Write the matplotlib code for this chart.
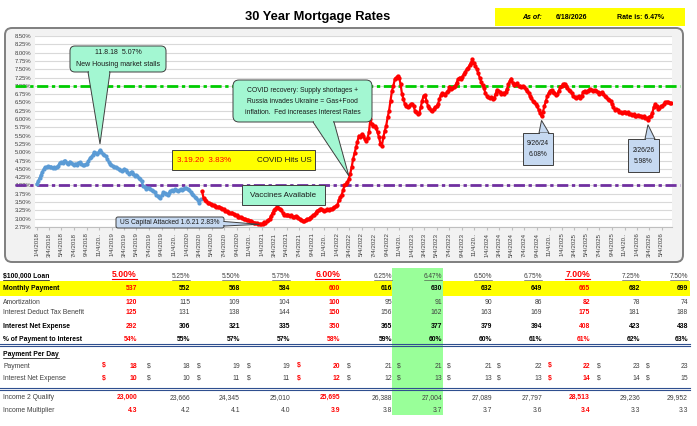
import numpy as np
import pandas as pd
import matplotlib
matplotlib.use('Agg')
import matplotlib.pyplot as plt
import matplotlib.dates as mdates
from matplotlib import font_manager
from matplotlib.patches import FancyBboxPatch, Polygon, Rectangle

plt.rcParams['font.family'] = ['Liberation Sans', 'DejaVu Sans']

#-- weekly 30 year rates (Thursdays) --
rates_2018 = [4.05, 4.12, 4.22, 4.32, 4.42, 4.50, 4.55, 4.56, 4.58, 4.55, 4.57, 4.54, 4.55,
              4.52, 4.56, 4.60, 4.68, 4.70, 4.68, 4.73, 4.75, 4.68, 4.66, 4.72, 4.68, 4.65,
              4.63, 4.66, 4.62, 4.68, 4.70, 4.66, 4.62, 4.61, 4.64, 4.66, 4.74, 4.82, 4.86,
              4.92, 5.00, 4.97, 4.95, 5.00, 5.07, 5.01, 4.95, 4.92, 4.88, 4.80, 4.72, 4.65]
rates_2019 = [4.62, 4.58, 4.55, 4.56, 4.52, 4.50, 4.47, 4.45, 4.46, 4.50, 4.46, 4.40, 4.35,
              4.38, 4.42, 4.35, 4.30, 4.32, 4.28, 4.22, 4.18, 4.12, 3.98, 3.95, 3.90, 3.92,
              3.92, 3.88, 3.85, 3.84, 3.80, 3.72, 3.68, 3.65, 3.62, 3.70, 3.80, 3.78, 3.74,
              3.72, 3.78, 3.82, 3.86, 3.84, 3.88, 3.85, 3.82, 3.85, 3.88, 3.85, 3.90, 3.92]
rates_2020 = [3.92, 3.88, 3.85, 3.80, 3.74, 3.70, 3.66, 3.62, 3.55, 3.48, 3.58, 3.83, 3.62,
              3.55, 3.52, 3.48, 3.46, 3.45, 3.42, 3.40, 3.38, 3.36, 3.34, 3.36, 3.33, 3.30,
              3.28, 3.24, 3.22, 3.20, 3.18, 3.16, 3.18, 3.14, 3.12, 3.10, 3.06, 3.05, 3.04,
              3.02, 3.00, 2.98, 2.96, 2.95, 2.94, 2.93, 2.90, 2.88, 2.87, 2.86, 2.85, 2.84, 2.84]
rates_2021 = [2.83, 2.90, 2.88, 2.92, 2.95, 3.00, 3.08, 3.18, 3.25, 3.30, 3.36, 3.33,
              3.30, 3.25, 3.18, 3.12, 3.10, 3.12, 3.10, 3.08, 3.10, 3.06, 3.04, 3.08, 3.05,
              3.02, 2.98, 2.95, 2.94, 2.92, 2.96, 3.00, 2.98, 3.03, 3.06, 3.10, 3.12, 3.18, 3.24,
              3.26, 3.28, 3.30, 3.26, 3.22, 3.25, 3.28, 3.26, 3.30, 3.28, 3.32, 3.34, 3.38]
rates_2022 = [3.40, 3.55, 3.65, 3.72, 3.85, 4.00, 4.05, 4.10, 4.20, 4.36, 4.55, 4.80, 4.97,
              5.15, 5.32, 5.50, 5.45, 5.55, 5.50, 5.40, 5.35, 5.42, 5.60, 6.00, 5.85, 5.80,
              5.80, 5.72, 5.60, 5.45, 5.25, 5.20, 5.45, 5.65, 5.80, 6.05, 6.25, 6.55, 6.85,
              7.00, 7.20, 7.25, 7.30, 7.25, 7.05, 6.75, 6.60, 6.45, 6.38, 6.35, 6.40, 6.45]
rates_2023 = [6.45, 6.40, 6.25, 6.20, 6.15, 6.18, 6.35, 6.55, 6.70, 6.72, 6.55, 6.40, 6.32,
              6.28, 6.25, 6.30, 6.35, 6.38, 6.45, 6.60, 6.72, 6.78, 6.75, 6.72, 6.80, 6.85,
              6.95, 6.90, 6.92, 6.95, 7.00, 7.10, 7.20, 7.25, 7.22, 7.28, 7.35, 7.42, 7.50,
              7.55, 7.62, 7.70, 7.80, 7.68, 7.60, 7.50, 7.38, 7.25, 7.12, 7.02, 6.92, 6.78]
rates_2024 = [6.70, 6.65, 6.62, 6.65, 6.60, 6.62, 6.75, 6.88, 6.85, 6.80, 6.75, 6.78, 6.76,
              6.82, 6.90, 7.05, 7.15, 7.22, 7.10, 7.02, 7.05, 7.08, 7.00, 6.98, 6.95, 7.00,
              6.95, 6.90, 6.85, 6.78, 6.70, 6.62, 6.55, 6.50, 6.45, 6.38, 6.28, 6.18, 6.08,
              6.22, 6.38, 6.55, 6.68, 6.78, 6.85, 6.88, 6.82, 6.78, 6.72, 6.75, 6.85, 6.95]
rates_2025 = [6.98, 7.04, 7.07, 7.00, 6.92, 6.88, 6.85, 6.78, 6.70, 6.65, 6.62, 6.65, 6.68,
              6.62, 6.70, 6.82, 6.85, 6.82, 6.85, 6.88, 6.90, 6.86, 6.84, 6.88, 6.85, 6.80,
              6.75, 6.78, 6.80, 6.74, 6.70, 6.65, 6.60, 6.58, 6.55, 6.45, 6.35, 6.28, 6.30,
              6.26, 6.22, 6.20, 6.18, 6.22, 6.20, 6.18, 6.20, 6.16, 6.15, 6.12, 6.14, 6.10]
rates_2026 = [6.10, 6.12, 6.08, 6.10, 6.05, 6.08, 6.04, 6.02, 5.98, 6.05, 6.10, 6.18, 6.35,
              6.45, 6.38, 6.30, 6.32, 6.38, 6.40, 6.45, 6.50, 6.52, 6.50, 6.48, 6.47]
blue_end = '2020-03-12'

#-- $100,000 loan table --
loan_rates = ['5.00%', '5.25%', '5.50%', '5.75%', '6.00%', '6.25%', '6.47%', '6.50%', '6.75%', '7.00%', '7.25%', '7.50%']
monthly_payment = [537, 552, 568, 584, 600, 616, 630, 632, 649, 665, 682, 699]
amortization = [120, 115, 109, 104, 100, 95, 91, 90, 86, 82, 78, 74]
tax_benefit = [125, 131, 138, 144, 150, 156, 162, 163, 169, 175, 181, 188]
net_expense = [292, 306, 321, 335, 350, 365, 377, 379, 394, 408, 423, 438]
pct_interest = [54, 55, 57, 57, 58, 59, 60, 60, 61, 61, 62, 63]
pay_per_day = [18, 18, 19, 19, 20, 21, 21, 21, 22, 22, 23, 23]
net_per_day = [10, 10, 11, 11, 12, 12, 13, 13, 13, 14, 14, 15]
income_qualify = [23000, 23666, 24345, 25010, 25695, 26388, 27004, 27089, 27797, 28513, 29236, 29952]
income_mult = [4.3, 4.2, 4.1, 4.0, 3.9, 3.8, 3.7, 3.7, 3.6, 3.4, 3.3, 3.3]
red_cols = [0, 4, 9]
cur_col = 6

#-- build weekly series --
yearly = {2018: rates_2018, 2019: rates_2019, 2020: rates_2020, 2021: rates_2021, 2022: rates_2022,
          2023: rates_2023, 2024: rates_2024, 2025: rates_2025, 2026: rates_2026}
dates, vals = [], []
for yr, v in yearly.items():
    dates += list(pd.date_range(f'{yr}-01-01', periods=len(v), freq='W-THU'))
    vals += v
rate = pd.Series(vals, index=pd.DatetimeIndex(dates))
blue = rate[rate.index <= blue_end]
red = rate[rate.index > blue_end]

#-- figure, pixel based layers --
W, H = 697, 426
fig = plt.figure(figsize=(W / 100, H / 100), dpi=100)
bg = fig.add_axes([0, 0, 1, 1], zorder=0)
bg.set_xlim(0, W); bg.set_ylim(H, 0); bg.axis('off')
ax = fig.add_axes([35 / W, 1 - 227 / H, 637 / W, 191 / H], zorder=1)
ov = fig.add_axes([0, 0, 1, 1], zorder=2)
ov.set_xlim(0, W); ov.set_ylim(H, 0); ov.axis('off')

#- chart frame -
bg.add_patch(FancyBboxPatch((5, 28), 678, 234, boxstyle='round,pad=0,rounding_size=7',
                            fc='#F2F2F2', ec='#7F7F7F', lw=1.4))

#-----------------------------------------
#       Chart
#-----------------------------------------
ax.set_facecolor('white')
ax.plot(blue.index, blue.values, color='#5B9BD5', lw=1.7, marker='o', ms=3.0, mew=0, zorder=3)
ax.plot(red.index, red.values, color='#FF0000', lw=1.6, marker='o', ms=3.1, mew=0, zorder=3)

d0 = mdates.date2num(pd.Timestamp('2018-01-04'))
d1 = mdates.date2num(pd.Timestamp('2026-05-04'))
ax.set_xlim(d0 - 8.3, d1 + 50)
ax.set_ylim(2.75, 8.5)

yt = np.arange(2.75, 8.51, 0.25)
ax.set_yticks(yt)
ax.set_yticklabels([f'{v:.2f}%' for v in yt])
ax.yaxis.grid(True, color='#D9D9D9', lw=0.8)
ax.set_axisbelow(True)

tick_dates = [pd.Timestamp(y, m, 4) for y in range(2018, 2027) for m in (1, 3, 5, 7, 9, 11)
              if (y, m) <= (2026, 5)]
tick_labels = [f'{d.month}/4/{d.year}' if d.month != 11 else '11/4/20..' for d in tick_dates]
ax.set_xticks(mdates.date2num(tick_dates))
ax.set_xticklabels(tick_labels, rotation=90)
ax.tick_params(axis='x', labelsize=4.4, labelcolor='#404040', length=2.5, color='#BFBFBF', pad=1.5)
ax.tick_params(axis='y', labelsize=4.2, labelcolor='#404040', length=0, pad=2.5)
for s in ['top', 'right', 'left']:
    ax.spines[s].set_visible(False)
ax.spines['bottom'].set_color('#BFBFBF')

#- reference lines at 7% and 4% -
xa0, xa1 = (15 - 35) / 637, (680 - 35) / 637
ax.plot([xa0, xa1], [7.0, 7.0], transform=ax.get_yaxis_transform(), color='#00CC00', lw=2.0,
        ls=(0, (4, 1.3, 1.2, 1.3)), clip_on=False, zorder=2)
ax.plot([xa0, xa1], [4.0, 4.0], transform=ax.get_yaxis_transform(), color='#7030A0', lw=2.0,
        ls=(0, (4, 1.3, 1.2, 1.3)), clip_on=False, zorder=2)


def to_px(date, dx=0, dy=0):
    d = pd.Timestamp(date)
    disp = ax.transData.transform((mdates.date2num(d), rate[d]))
    x, y = ov.transData.inverted().transform(disp)
    return (x + dx, y + dy)


EC = '#3F3F3F'
MINT = '#A3F7D2'
LBLUE = '#C6D9F1'


def box(x0, y0, x1, y1, fc, r=0, lw=0.7):
    style = f'round,pad=0,rounding_size={r}' if r else 'square,pad=0'
    ov.add_patch(FancyBboxPatch((x0, y0), x1 - x0, y1 - y0, boxstyle=style, fc=fc, ec=EC, lw=lw, zorder=5))


def wedge(b0, b1, tip, inward, fc, lw=0.7):
    ov.add_patch(Polygon([b0, tip, b1], closed=True, fc=fc, ec=EC, lw=lw, zorder=5))
    b0 = np.array(b0, float); b1 = np.array(b1, float); n = np.array(inward, float)
    d = (b1 - b0) / np.hypot(*(b1 - b0))
    pts = [b0 + d * 0.9 - n * 0.5, b1 - d * 0.9 - n * 0.5, b1 - d * 0.9 + n * 1.6, b0 + d * 0.9 + n * 1.6]
    ov.add_patch(Polygon(pts, closed=True, fc=fc, ec='none', zorder=5.1))


def txt(x, y, s, size=5.0, **kw):
    kw.setdefault('ha', 'center'); kw.setdefault('va', 'center')
    kw.setdefault('color', '#1A1A1A')
    return ov.text(x, y, s, fontsize=size, zorder=6, **kw)


#- callouts -
box(70, 46, 166, 72, MINT, r=5)
wedge((88, 72), (110, 72), to_px('2018-11-08', 0, -6), (0, -1), MINT)
txt(118, 53, '11.8.18  5.07%')
txt(118, 65, 'New Housing market stalls')

box(233, 80, 372, 122, MINT, r=6)
wedge((313, 122), (334, 122), to_px('2022-03-03', 0, -3), (0, -1), MINT)
txt(302.5, 90, 'COVID recovery: Supply shortages +', size=4.9)
txt(302.5, 101.5, 'Russia invades Ukraine = Gas+Food', size=4.9)
txt(302.5, 113, 'inflation.  Fed increases Interest Rates', size=4.9)

box(172, 150, 315, 170, '#FFFF00')
txt(177, 160.5, '3.19.20  3.83%', size=5.8, ha='left', color='#FF0000')
txt(284, 160.5, 'COVID Hits US', size=5.8)

box(242, 185, 325, 205, MINT)
txt(283.5, 195.5, 'Vaccines Available', size=5.8)

box(116, 217, 224, 228, LBLUE, r=2)
wedge((224, 221.5), (224, 226), to_px('2021-01-07', -3, 0), (-1, 0), LBLUE)
txt(170, 222.7, 'US Capital Attacked 1.6.21 2.83%', size=4.8)

box(523, 133, 553, 165, LBLUE)
wedge((539, 133), (549, 133), to_px('2024-09-26', 0, 4), (0, 1), LBLUE)
txt(538, 143.5, '9/26/24', size=4.8)
txt(538, 154, '6.08%', size=4.8)

box(628, 139, 659, 172, LBLUE)
wedge((645, 139), (655, 139), to_px('2026-02-26', 0, 5), (0, 1), LBLUE)
txt(643.5, 151, '2/26/26', size=4.8)
txt(643.5, 161.5, '5.98%', size=4.8)

#-----------------------------------------
#       Header
#-----------------------------------------
names = {f.name for f in font_manager.fontManager.ttflist}
if 'Liberation Sans Narrow' in names:
    ov.text(318, 17, '30 Year Mortgage Rates', fontsize=10.8, fontweight='bold',
            family='Liberation Sans Narrow', ha='center', va='center')
else:
    ov.text(318, 17, '30 Year Mortgage Rates', fontsize=9.3, fontweight='bold', ha='center', va='center')
bg.add_patch(Rectangle((495, 8), 190, 18, fc='#FFFF00', ec='none'))
ov.text(522, 17.5, 'As of:', fontsize=5, fontweight='bold', fontstyle='italic', va='center')
ov.text(556, 17.5, '6/18/2026', fontsize=5, fontweight='bold', va='center')
ov.text(617, 17.5, 'Rate is: 6.47%', fontsize=5, fontweight='bold', va='center')

#-----------------------------------------
#       Table
#-----------------------------------------
col_right = [137, 190, 240, 290, 340, 392, 442, 492, 542, 590, 640, 688]
dollar_x = [102, 147, 197, 247, 297, 347, 397, 447, 497, 548, 597, 646]
FS = 4.9
GRAY = '#404040'
RED = '#FF0000'

bg.add_patch(Rectangle((0, 281), 690, 15, fc='#FFFF00', ec='none', zorder=1))
bg.add_patch(Rectangle((392, 268), 51, 147, fc='#99FF99', ec='none', zorder=2))
for yy in (343.6, 345.6, 388.2, 390.4):
    bg.plot([0, 690], [yy, yy], color='#2F4F8F', lw=0.8, zorder=3)

underlines = []
t = ov.text(3, 276.5, '$100,000 Loan', fontsize=FS, fontweight='bold', va='center')
underlines.append((t, 'black', 0.5))
for j, lab in enumerate(loan_rates):
    if j in red_cols:
        t = ov.text(col_right[j], 274.5, lab, fontsize=6.2, fontweight='bold', color=RED, ha='right', va='center')
        underlines.append((t, RED, 0.8))
    else:
        t = ov.text(col_right[j], 276.5, lab, fontsize=4.7, color=GRAY, ha='right', va='center')
        underlines.append((t, GRAY, 0.4))

rows = [
    ('Monthly Payment', 289, monthly_payment, '{:d}', True),
    ('Amortization', 302, amortization, '{:d}', False),
    ('Interest Deduct Tax Benefit', 313, tax_benefit, '{:d}', False),
    ('Interest Net Expense', 327, net_expense, '{:d}', True),
    ('% of Payment to Interest', 339.5, pct_interest, '{:d}%', True),
    ('Income 2 Qualify', 397.5, income_qualify, '{:,}', False),
    ('Income Multiplier', 410, income_mult, '{:.1f}', False),
]
for lab, y, values, fmt, bold in rows:
    ov.text(3, y, lab, fontsize=FS, fontweight='bold' if bold else 'normal',
            color='black' if bold else GRAY, va='center')
    for j, v in enumerate(values):
        if j in red_cols:
            c, w = RED, 'bold'
        else:
            c, w = ('black', 'bold') if bold else (GRAY, 'normal')
        ov.text(col_right[j], y, fmt.format(v), fontsize=FS, fontweight=w, color=c, ha='right', va='center')

t = ov.text(3, 354.5, 'Payment Per Day', fontsize=FS, fontweight='bold', va='center')
underlines.append((t, 'black', 0.5))
for lab, y, values in [('Payment', 366, pay_per_day), ('Interest Net Expense', 378.5, net_per_day)]:
    ov.text(3, y, lab, fontsize=FS, color=GRAY, va='center')
    for j, v in enumerate(values):
        c, w = (RED, 'bold') if j in red_cols else (GRAY, 'normal')
        ov.text(dollar_x[j], y, '$', fontsize=FS, fontweight=w, color=c, ha='left', va='center')
        ov.text(col_right[j], y, f'{v:d}', fontsize=FS, fontweight=w, color=c, ha='right', va='center')

#- underlines from the rendered text extents -
fig.canvas.draw()
rend = fig.canvas.get_renderer()
inv = ov.transData.inverted()
for t, c, lw in underlines:
    bb = t.get_window_extent(rend)
    x0, yb = inv.transform((bb.x0, bb.y0))
    x1, _ = inv.transform((bb.x1, bb.y0))
    ov.plot([x0, x1], [yb - 0.3, yb - 0.3], color=c, lw=lw, zorder=6)

fig.savefig('out.png', dpi=100)
